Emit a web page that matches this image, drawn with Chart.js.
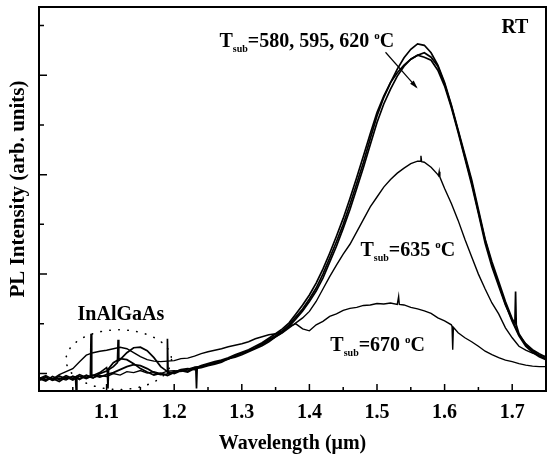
<!DOCTYPE html>
<html>
<head>
<meta charset="utf-8">
<script src="https://cdn.jsdelivr.net/npm/chart.js@4"></script>
<style>
  html, body { margin: 0; padding: 0; background: #fff; }
  #wrap { width: 547px; height: 457px; }
</style>
</head>
<body>
<div id="wrap"><canvas id="plChart" width="547" height="457"></canvas></div>
<script>
// wavelength grid (um), shared by every spectrum
const wavelength = [
  1.00, 1.01, 1.02, 1.03, 1.04, 1.05, 1.06, 1.07, 1.08, 1.09,
  1.10, 1.11, 1.12, 1.13, 1.14, 1.15, 1.16, 1.17, 1.18, 1.19,
  1.20, 1.21, 1.22, 1.23, 1.24, 1.25, 1.26, 1.27, 1.28, 1.29,
  1.30, 1.31, 1.32, 1.33, 1.34, 1.35, 1.36, 1.37, 1.38, 1.39,
  1.40, 1.41, 1.42, 1.43, 1.44, 1.45, 1.46, 1.47, 1.48, 1.49,
  1.50, 1.51, 1.52, 1.53, 1.54, 1.55, 1.56, 1.57, 1.58, 1.59,
  1.60, 1.61, 1.62, 1.63, 1.64, 1.65, 1.66, 1.67, 1.68, 1.69,
  1.70, 1.71, 1.72, 1.73, 1.74, 1.75
];

// PL intensity (arb. units)
const pl580 = [
  -0.10, -0.15, -0.06, -0.12, -0.04, -0.10, -0.02, -0.08, -0.03, -0.07,
  -0.02, 0.02, 0.08, 0.14, 0.18, 0.16, 0.10, 0.02, -0.02, 0.00,
  0.04, 0.07, 0.05, 0.12, 0.14, 0.18, 0.21, 0.26, 0.29, 0.36,
  0.41, 0.46, 0.52, 0.60, 0.68, 0.76, 0.86, 0.98, 1.14, 1.30,
  1.50, 1.72, 2.00, 2.32, 2.65, 3.00, 3.40, 3.82, 4.25, 4.72,
  5.18, 5.55, 5.85, 6.12, 6.35, 6.52, 6.63, 6.60, 6.45, 6.20,
  5.85, 5.40, 4.90, 4.40, 3.90, 3.30, 2.70, 2.25, 1.85, 1.45,
  1.10, 0.80, 0.58, 0.46, 0.36, 0.30
];
const pl595 = [
  -0.14, -0.08, -0.13, -0.05, -0.11, -0.06, -0.12, -0.04, -0.09, 0.00,
  0.05, 0.14, 0.28, 0.42, 0.52, 0.53, 0.46, 0.32, 0.14, 0.04,
  0.00, 0.06, 0.03, 0.10, 0.12, 0.16, 0.19, 0.23, 0.30, 0.33,
  0.38, 0.44, 0.50, 0.56, 0.64, 0.74, 0.83, 0.95, 1.10, 1.26,
  1.45, 1.66, 1.92, 2.24, 2.56, 2.92, 3.30, 3.72, 4.15, 4.60,
  5.05, 5.42, 5.72, 5.98, 6.18, 6.32, 6.40, 6.45, 6.36, 6.18,
  5.82, 5.38, 4.88, 4.36, 3.85, 3.25, 2.68, 2.20, 1.80, 1.40,
  1.05, 0.76, 0.55, 0.43, 0.34, 0.28
];
const pl620 = [
  -0.08, -0.12, -0.10, -0.16, -0.07, -0.13, -0.05, -0.10, -0.04, 0.02,
  0.12, 0.22, 0.30, 0.28, 0.20, 0.10, 0.03, -0.03, 0.01, -0.04,
  0.02, 0.08, 0.10, 0.08, 0.16, 0.20, 0.24, 0.27, 0.32, 0.38,
  0.43, 0.48, 0.55, 0.62, 0.71, 0.80, 0.90, 1.02, 1.20, 1.38,
  1.58, 1.82, 2.10, 2.42, 2.76, 3.12, 3.52, 3.94, 4.38, 4.82,
  5.25, 5.58, 5.85, 6.05, 6.20, 6.32, 6.40, 6.36, 6.30, 6.10,
  5.78, 5.35, 4.85, 4.33, 3.80, 3.22, 2.62, 2.15, 1.76, 1.38,
  1.08, 0.78, 0.60, 0.48, 0.40, 0.33
];
const pl635 = [
  -0.12, -0.06, -0.14, -0.09, -0.13, -0.05, -0.10, -0.03, -0.08, -0.04,
  -0.06, 0.00, -0.03, 0.04, 0.02, 0.06, 0.01, 0.04, 0.00, 0.05,
  0.06, 0.04, 0.09, 0.13, 0.15, 0.17, 0.22, 0.25, 0.30, 0.34,
  0.40, 0.45, 0.51, 0.58, 0.66, 0.74, 0.82, 0.92, 1.02, 1.12,
  1.25, 1.45, 1.70, 1.95, 2.18, 2.40, 2.60, 2.85, 3.10, 3.35,
  3.55, 3.75, 3.90, 4.03, 4.13, 4.22, 4.27, 4.25, 4.15, 4.00,
  3.72, 3.42, 3.08, 2.70, 2.35, 2.00, 1.70, 1.42, 1.20, 0.92,
  0.72, 0.55, 0.47, 0.41, 0.37, 0.34
];
const pl670 = [
  -0.10, -0.04, -0.11, -0.02, 0.04, 0.10, 0.24, 0.37, 0.42, 0.45,
  0.47, 0.50, 0.53, 0.50, 0.42, 0.34, 0.28, 0.25, 0.24, 0.25,
  0.26, 0.30, 0.31, 0.35, 0.40, 0.44, 0.47, 0.50, 0.54, 0.57,
  0.60, 0.64, 0.70, 0.74, 0.78, 0.80, 0.86, 0.95, 1.00, 0.90,
  0.86, 0.98, 1.05, 1.15, 1.20, 1.27, 1.31, 1.33, 1.37, 1.38,
  1.41, 1.40, 1.42, 1.39, 1.38, 1.33, 1.30, 1.26, 1.21, 1.12,
  1.06, 0.98, 0.82, 0.72, 0.64, 0.55, 0.45, 0.38, 0.32, 0.27,
  0.24, 0.20, 0.17, 0.15, 0.14, 0.14
];

// narrow spikes in the measured spectra: [wavelength, intensity]
const spikes580 = [[1.076, -0.05], [1.077, 0.80], [1.078, -0.05], [1.189, -0.01], [1.190, 0.70], [1.191, 0.00], [1.704, 1.02], [1.705, 1.65], [1.706, 0.98]];
const spikes595 = [[1.054, -0.08], [1.055, -0.35], [1.056, -0.07], [1.116, 0.22], [1.117, 0.68], [1.118, 0.26]];
const spikes620 = [[1.101, 0.07], [1.102, -0.30], [1.103, 0.10], [1.232, 0.10], [1.233, -0.30], [1.234, 0.12]];
const spikes635 = [[1.564, 4.27], [1.565, 4.38], [1.566, 4.26], [1.591, 3.98], [1.592, 4.06], [1.593, 3.95]];
const spikes670 = [[1.531, 1.39], [1.532, 1.55], [1.533, 1.39], [1.611, 0.95], [1.612, 0.48], [1.613, 0.93]];

// tick values
const xMajorTicks = [1.1, 1.2, 1.3, 1.4, 1.5, 1.6, 1.7];
const xMinorTicks = [1.05, 1.15, 1.25, 1.35, 1.45, 1.55, 1.65, 1.75];
const yMajorTicks = [0, 2, 4, 6];
const yMinorTicks = [1, 3, 5, 7];

const SERIF = '"Liberation Serif", "Times New Roman", serif';

// build {x,y} points: grid values plus spike points, sorted on x
function buildPoints(values, spikes) {
    const pts = wavelength.map((w, i) => ({ x: w, y: values[i] }));
    spikes.forEach(s => pts.push({ x: s[0], y: s[1] }));
    pts.sort((a, b) => a.x - b.x);
    return pts;
}

function lineSet(label, values, spikes, width) {
    return {
        label: label,
        data: buildPoints(values, spikes),
        borderColor: '#000',
        borderWidth: width,
        pointRadius: 0,
        tension: 0,
        fill: false
    };
}

// draws "T_sub=..." with a subscript and a raised small o for the degree sign
function drawTsub(ctx, x, y, middle) {
    ctx.textAlign = 'left';
    ctx.textBaseline = 'alphabetic';
    ctx.font = 'bold 20px ' + SERIF;
    ctx.fillText('T', x, y);
    x += ctx.measureText('T').width;
    ctx.font = 'bold 10px ' + SERIF;
    ctx.fillText('sub', x, y + 5);
    x += ctx.measureText('sub').width;
    ctx.font = 'bold 20px ' + SERIF;
    ctx.fillText(middle, x, y);
    x += ctx.measureText(middle).width;
    ctx.font = 'bold 11px ' + SERIF;
    ctx.fillText('o', x, y - 8);
    x += ctx.measureText('o').width;
    ctx.font = 'bold 20px ' + SERIF;
    ctx.fillText('C', x, y);
}

const decorPlugin = {
    id: 'decor',
    afterDraw(chart) {
        const ctx = chart.ctx;
        const a = chart.chartArea;
        const xs = chart.scales.x;
        const ys = chart.scales.y;
        ctx.save();
        ctx.strokeStyle = '#000';
        ctx.fillStyle = '#000';

        // frame
        ctx.lineWidth = 2;
        ctx.strokeRect(a.left, a.top, a.right - a.left, a.bottom - a.top);

        // inward ticks
        ctx.lineWidth = 1.5;
        ctx.beginPath();
        xMajorTicks.forEach(v => { const p = xs.getPixelForValue(v); ctx.moveTo(p, a.bottom); ctx.lineTo(p, a.bottom - 7); });
        xMinorTicks.forEach(v => { const p = xs.getPixelForValue(v); ctx.moveTo(p, a.bottom); ctx.lineTo(p, a.bottom - 4); });
        yMajorTicks.forEach(v => { const p = ys.getPixelForValue(v); ctx.moveTo(a.left, p); ctx.lineTo(a.left + 8, p); });
        yMinorTicks.forEach(v => { const p = ys.getPixelForValue(v); ctx.moveTo(a.left, p); ctx.lineTo(a.left + 5, p); });
        ctx.stroke();

        // axis titles
        ctx.textAlign = 'center';
        ctx.textBaseline = 'middle';
        ctx.font = 'bold 20px ' + SERIF;
        ctx.fillText('Wavelength (\u03bcm)', (a.left + a.right) / 2, a.bottom + 53);
        ctx.save();
        ctx.font = 'bold 21px ' + SERIF;
        ctx.translate(a.left - 20, a.top + 182);
        ctx.rotate(-Math.PI / 2);
        ctx.fillText('PL Intensity (arb. units)', 0, 0);
        ctx.restore();

        // annotations
        drawTsub(ctx, xs.getPixelForValue(1.267), ys.getPixelForValue(6.56), '=580, 595, 620 ');
        drawTsub(ctx, xs.getPixelForValue(1.4756), ys.getPixelForValue(2.36), '=635 ');
        drawTsub(ctx, xs.getPixelForValue(1.431), ys.getPixelForValue(0.45), '=670 ');

        ctx.font = 'bold 20px ' + SERIF;
        ctx.textAlign = 'left';
        ctx.textBaseline = 'alphabetic';
        ctx.fillText('RT', xs.getPixelForValue(1.684), ys.getPixelForValue(6.84));
        ctx.fillText('InAlGaAs', xs.getPixelForValue(1.057), ys.getPixelForValue(1.075));

        // arrow
        const x0 = xs.getPixelForValue(1.5126), y0 = ys.getPixelForValue(6.46);
        const x1 = xs.getPixelForValue(1.5581), y1 = ys.getPixelForValue(5.76);
        ctx.lineWidth = 1.2;
        ctx.beginPath();
        ctx.moveTo(x0, y0);
        ctx.lineTo(x1, y1);
        ctx.stroke();
        const ang = Math.atan2(y1 - y0, x1 - x0);
        ctx.beginPath();
        ctx.moveTo(x1 + 2 * Math.cos(ang), y1 + 2 * Math.sin(ang));
        ctx.lineTo(x1 - 7 * Math.cos(ang - 0.35), y1 - 7 * Math.sin(ang - 0.35));
        ctx.lineTo(x1 - 7 * Math.cos(ang + 0.35), y1 - 7 * Math.sin(ang + 0.35));
        ctx.closePath();
        ctx.fill();

        // dotted ellipse round the InAlGaAs feature
        const cx = xs.getPixelForValue(1.118), cy = ys.getPixelForValue(0.28);
        const rx = xs.getPixelForValue(1.118 + 0.078) - cx;
        const ry = cy - ys.getPixelForValue(0.28 + 0.6);
        ctx.lineWidth = 1.6;
        ctx.lineCap = 'round';
        ctx.setLineDash([0.5, 8.5]);
        ctx.beginPath();
        ctx.ellipse(cx, cy, rx, ry, 0, 0, Math.PI * 2);
        ctx.stroke();
        ctx.restore();
    }
};

new Chart(document.getElementById('plChart').getContext('2d'), {
    type: 'line',
    data: {
        datasets: [
            lineSet('580', pl580, spikes580, 1.7),
            lineSet('595', pl595, spikes595, 1.7),
            lineSet('620', pl620, spikes620, 1.7),
            lineSet('635', pl635, spikes635, 1.4),
            lineSet('670', pl670, spikes670, 1.4)
        ]
    },
    options: {
        responsive: false,
        animation: false,
        devicePixelRatio: 1,
        layout: { padding: { top: 7, right: 1, left: 0, bottom: 0 } },
        plugins: { legend: { display: false }, tooltip: { enabled: false } },
        scales: {
            x: {
                type: 'linear',
                min: 1.0,
                max: 1.75,
                grid: { display: false, drawTicks: false },
                border: { display: false },
                afterBuildTicks: function(s) { s.ticks = xMajorTicks.map(v => ({ value: v })); },
                ticks: {
                    padding: 10,
                    color: '#000',
                    font: { family: SERIF, size: 20, weight: 'bold' },
                    callback: function(v) { return v.toFixed(1); }
                },
                afterFit: function(s) { s.height = 66; }
            },
            y: {
                type: 'linear',
                min: -0.35,
                max: 7.37,
                grid: { display: false, drawTicks: false },
                border: { display: false },
                ticks: { display: false },
                afterFit: function(s) { s.width = 39; }
            }
        }
    },
    plugins: [decorPlugin]
});
</script>
</body>
</html>
